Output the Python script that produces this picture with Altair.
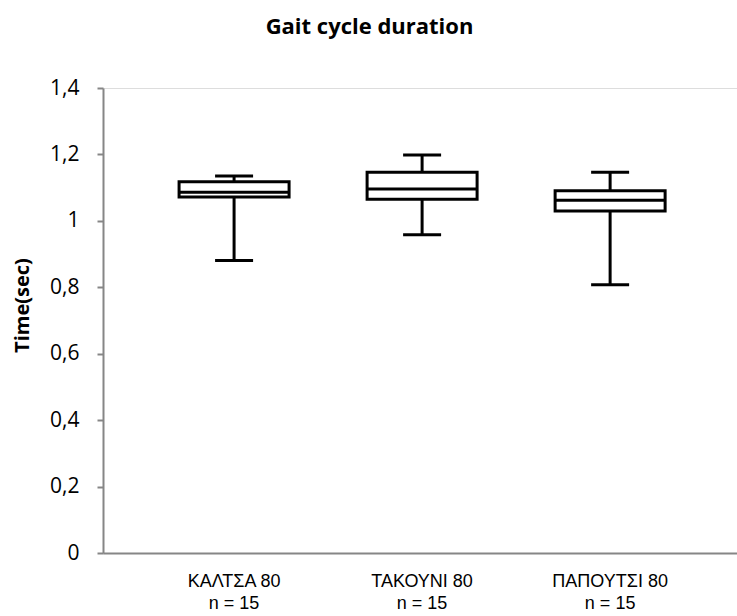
import altair as alt
import pandas as pd

# Box-plot summary per footwear condition (seconds)
categories = ["ΚΑΛΤΣΑ 80", "ΤΑΚΟΥΝΙ 80", "ΠΑΠΟΥΤΣΙ 80"]
sample_sizes = [15, 15, 15]
minimum = [0.881, 0.958, 0.808]
lower_quartile = [1.072, 1.065, 1.030]
median = [1.086, 1.096, 1.062]
upper_quartile = [1.118, 1.146, 1.091]
maximum = [1.135, 1.198, 1.146]

df = pd.DataFrame({
    "group": [f"{c}|n = {n}" for c, n in zip(categories, sample_sizes)],
    "min": minimum,
    "q1": lower_quartile,
    "median": median,
    "q3": upper_quartile,
    "max": maximum,
})

AXIS_GREY = "#868686"
LINE_W = 3
SANS = "Open Sans"

x_enc = alt.X(
    "group:N",
    sort=None,
    title=None,
    scale=alt.Scale(paddingInner=0, paddingOuter=0.186, align=0.53),
    axis=alt.Axis(
        labelExpr="split(datum.label, '|')",
        labelFont="Liberation Sans",
        labelFontSize=18,
        labelLineHeight=22,
        labelColor="black",
        labelPadding=19,
        labelAngle=0,
        ticks=False,
        domainColor=AXIS_GREY,
        domainWidth=2,
    ),
)
y_scale = alt.Scale(domain=[0, 1.4], nice=False, zero=True)
y_axis = alt.Axis(
    values=[0, 0.2, 0.4, 0.6, 0.8, 1.0, 1.2, 1.4],
    labelExpr="replace(format(datum.value, '~g'), '.', ',')",
    labelFont=SANS,
    labelFontSize=21,
    labelColor="black",
    labelPadding=18,
    tickSize=6,
    tickColor=AXIS_GREY,
    tickWidth=2,
    domainColor=AXIS_GREY,
    domainWidth=2,
    grid=False,
    title="Time(sec)",
    titleFont=SANS,
    titleFontWeight="bold",
    titleFontSize=20,
    titleColor="black",
    titleBaseline="middle",
    titleX=-81,
    titleY=217,
)

base = alt.Chart(df).encode(x=x_enc)

lower_whisker = base.mark_rule(color="black", strokeWidth=LINE_W).encode(
    y=alt.Y("min:Q", scale=y_scale, axis=y_axis), y2="q1:Q"
)
upper_whisker = base.mark_rule(color="black", strokeWidth=LINE_W).encode(
    y="q3:Q", y2="max:Q"
)
box = base.mark_bar(
    width=110, fill="white", stroke="black", strokeWidth=LINE_W
).encode(y="q1:Q", y2="q3:Q")
median_line = base.mark_tick(
    color="black", size=110, thickness=LINE_W, opacity=1
).encode(y="median:Q")
cap_low = base.mark_tick(
    color="black", size=38, thickness=LINE_W, opacity=1
).encode(y="min:Q")
cap_high = base.mark_tick(
    color="black", size=38, thickness=LINE_W, opacity=1
).encode(y="max:Q")

chart = (
    alt.layer(lower_whisker, upper_whisker, box, median_line, cap_low, cap_high)
    .properties(
        width=634,
        height=465,
        autosize=alt.AutoSizeParams(type="none"),
        padding={"left": 103, "top": 88, "right": 0, "bottom": 63},
        title=alt.TitleParams(
            "Gait cycle duration",
            font=SANS,
            fontSize=22,
            fontWeight="bold",
            color="black",
            anchor="middle",
            frame="bounds",
            offset=38,
            dx=-5,
        ),
    )
    .configure_view(stroke=None)
    .configure(background="white")
)

chart.save("out.html", embed_options={"renderer": "svg", "actions": False})
